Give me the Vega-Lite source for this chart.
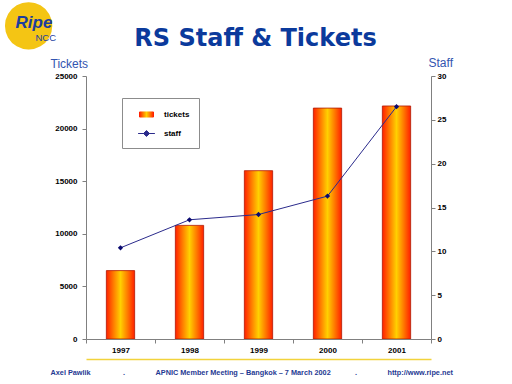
{
  "$schema": "https://vega.github.io/schema/vega-lite/v6.json",
  "autosize": {"type": "none"},
  "width": 345,
  "height": 263,
  "padding": {"left": 86, "top": 76, "right": 81, "bottom": 45},
  "background": "white",
  "title": {
    "text": "RS Staff & Tickets",
    "font": "DejaVu Sans",
    "fontSize": 24,
    "fontWeight": "bold",
    "color": "#0b3a9c",
    "anchor": "middle",
    "frame": "group",
    "baseline": "alphabetic",
    "offset": -79,
    "dx": -3
  },
  "data": {
    "values": [
      {"year": "1997", "tickets": 6500, "staff": 10.4},
      {"year": "1998", "tickets": 10800, "staff": 13.6},
      {"year": "1999", "tickets": 16000, "staff": 14.2},
      {"year": "2000", "tickets": 21950, "staff": 16.3},
      {"year": "2001", "tickets": 22150, "staff": 26.5}
    ]
  },
  "config": {
    "view": {"stroke": null},
    "axis": {
      "grid": false,
      "labelFont": "Liberation Sans",
      "labelFontWeight": "bold",
      "labelFontSize": 8,
      "labelColor": "black",
      "tickColor": "#808080",
      "domainColor": "#808080",
      "tickSize": 4
    }
  },
  "resolve": {"scale": {"x": "independent", "y": "independent"}},
  "layer": [
    {
      "mark": {"type": "bar", "width": {"band": 0.41}, "stroke": "#b01800", "strokeWidth": 0.8},
      "encoding": {
        "x": {
          "field": "year", "type": "ordinal",
          "scale": {"paddingInner": 0, "paddingOuter": 0},
          "axis": {
            "orient": "bottom", "labelAngle": 0, "tickBand": "extent", "labelPadding": 3, "zindex": 1,
            "title": "Ripe", "titleFont": "Liberation Sans", "titleFontStyle": "italic", "titleFontWeight": "bold",
            "titleFontSize": 17, "titleColor": "#1c3d9e", "titleAlign": "left", "titleBaseline": "alphabetic",
            "titleAngle": 0, "titleX": -71, "titleY": -312
          }
        },
        "y": {
          "field": "tickets", "type": "quantitative",
          "scale": {"domain": [0, 25000]},
          "axis": {
            "orient": "left", "values": [0, 5000, 10000, 15000, 20000, 25000], "format": "d", "labelPadding": 5,
            "title": "Tickets", "titleFont": "Liberation Sans", "titleFontWeight": "normal", "titleFontSize": 12,
            "titleColor": "#3355b0", "titleAngle": 0, "titleAlign": "left", "titleBaseline": "alphabetic",
            "titleX": -36, "titleY": -9
          }
        },
        "color": {
          "datum": "tickets",
          "scale": {
            "domain": ["tickets", "staff"],
            "range": [
              {"expr": "{gradient: 'linear', x1: 0, y1: 0, x2: 1, y2: 0, stops: [{offset: 0, color: '#ff2000'}, {offset: 0.25, color: '#ff7a00'}, {offset: 0.5, color: '#ffd000'}, {offset: 0.75, color: '#ff7a00'}, {offset: 1, color: '#ff2000'}]}"},
              "#2b2b8c"
            ]
          },
          "legend": {
            "orient": "none", "legendX": 36, "legendY": 22, "title": null,
            "padding": 9, "strokeColor": "#8c8c8c", "fillColor": "white",
            "rowPadding": 6, "symbolSize": 196, "symbolOffset": 8, "labelOffset": 10,
            "labelFont": "Liberation Sans", "labelFontWeight": "bold", "labelFontSize": 8, "labelColor": "black",
            "symbolType": {"expr": "datum.value === 'tickets' ? 'M-1,-0.36H1V0.36H-1Z' : 'M-1.2,0H1.2M0,-0.42L0.42,0L0,0.42L-0.42,0Z'"},
            "symbolStrokeColor": {"expr": "datum.value === 'tickets' ? '#a01000' : '#2b2b8c'"},
            "symbolStrokeWidth": 1
          }
        }
      }
    },
    {
      "mark": {"type": "line", "strokeWidth": 1},
      "encoding": {
        "x": {
          "field": "year", "type": "ordinal",
          "axis": {
            "orient": "bottom", "offset": 20, "labels": false, "ticks": false,
            "domain": true, "domainColor": "#f2d33c", "domainWidth": 1.5,
            "title": "Axel Pawlik\u00a0\u00a0\u00a0\u00a0\u00a0\u00a0\u00a0\u00a0\u00a0\u00a0\u00a0\u00a0\u00a0\u00a0\u00a0\u00a0.\u00a0\u00a0\u00a0\u00a0\u00a0\u00a0\u00a0\u00a0\u00a0\u00a0\u00a0\u00a0\u00a0\u00a0\u00a0APNIC Member Meeting – Bangkok – 7 March 2002\u00a0\u00a0\u00a0\u00a0\u00a0\u00a0\u00a0\u00a0\u00a0\u00a0\u00a0\u00a0.\u00a0\u00a0\u00a0\u00a0\u00a0\u00a0\u00a0\u00a0\u00a0\u00a0\u00a0\u00a0\u00a0\u00a0\u00a0http://www.ripe.net",
            "titleFont": "Liberation Sans", "titleFontWeight": "bold", "titleFontSize": 7.3, "titleColor": "#1f3a93",
            "titleAngle": 0, "titleAlign": "left", "titleBaseline": "alphabetic", "titleX": -36, "titleY": 15
          }
        },
        "y": {
          "field": "staff", "type": "quantitative",
          "scale": {"domain": [0, 30]},
          "axis": {
            "orient": "right", "values": [0, 5, 10, 15, 20, 25, 30], "labelPadding": 2,
            "title": "Staff", "titleFont": "Liberation Sans", "titleFontWeight": "normal", "titleFontSize": 12,
            "titleColor": "#3355b0", "titleAngle": 0, "titleAlign": "left", "titleBaseline": "alphabetic",
            "titleX": -3, "titleY": -10
          }
        },
        "color": {"datum": "staff"}
      }
    },
    {
      "mark": {"type": "point", "shape": "diamond", "filled": true, "size": 28, "color": "#0a0a70", "opacity": 1},
      "encoding": {
        "x": {
          "field": "year", "type": "ordinal",
          "axis": {
            "orient": "top", "labels": false, "ticks": false, "domain": false, "zindex": 0,
            "title": "●", "titleFont": "DejaVu Sans", "titleFontSize": 62, "titleColor": "#f4c514",
            "titleAngle": 0, "titleAlign": "center", "titleBaseline": "middle", "titleX": -58, "titleY": -54
          }
        },
        "y": {
          "field": "staff", "type": "quantitative",
          "scale": {"domain": [0, 30]},
          "axis": {
            "orient": "left", "labels": false, "ticks": false, "domain": false, "zindex": 1,
            "title": "NCC", "titleFont": "Liberation Sans", "titleFontWeight": "normal", "titleFontSize": 9.5,
            "titleColor": "#1c3d9e", "titleAngle": 0, "titleAlign": "left", "titleBaseline": "alphabetic",
            "titleX": -51, "titleY": -36
          }
        }
      }
    }
  ]
}
